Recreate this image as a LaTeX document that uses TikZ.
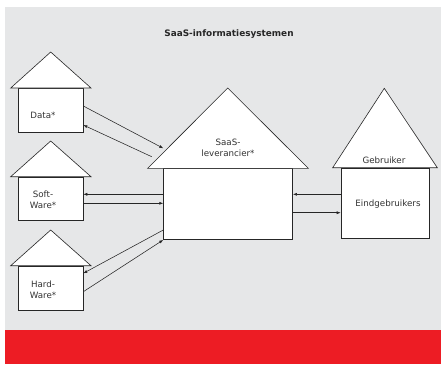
\documentclass[tikz,border=0pt]{standalone}
\usepackage{fontspec}
\setmainfont{DejaVu Sans}
\usetikzlibrary{arrows.meta}
\definecolor{bggray}{RGB}{230,231,232}
\definecolor{bandred}{RGB}{237,28,36}
\begin{document}
\begin{tikzpicture}[x=1pt,y=-1pt,
  body/.style={draw=black!85, fill=white, line width=0.6pt, inner sep=0pt, anchor=north west},
  roof/.style={draw=black!85, fill=white, line width=0.6pt, line join=miter},
  lbl/.style={font=\fontsize{8.7}{11}\selectfont, text=black!80, align=center, inner sep=0pt},
  conn/.style={draw=black!85, line width=0.55pt, -{Latex[length=4pt,width=3pt]}}]
\useasboundingbox (0,0) rectangle (441,364);
\fill[bggray] (5,7) rectangle (441,330);
\fill[bandred] (5,330) rectangle (441,364);
\node[font=\bfseries\fontsize{8.9}{11}\selectfont, text=black!85, inner sep=0pt] (title) at (229,34) {SaaS-informatiesystemen};
% Data house
\node[body, minimum width=64.4pt, minimum height=44pt] (datab) at (18.3,88) {};
\draw[roof] (10.7,88) -- (50.7,52) -- (91,88) -- cycle;
\node[lbl] (datal) at (43,115) {Data*};
% Software house
\node[body, minimum width=64.4pt, minimum height=43.3pt] (softb) at (18.3,176.7) {};
\draw[roof] (10.7,176.7) -- (50.7,141) -- (91,176.7) -- cycle;
\node[lbl] (softl) at (43,200) {Soft-\\Ware*};
% Hardware house
\node[body, minimum width=64.4pt, minimum height=44.3pt] (hardb) at (18.3,265.7) {};
\draw[roof] (10.7,265.7) -- (50.7,230) -- (91,265.7) -- cycle;
\node[lbl] (hardl) at (43,290) {Hard-\\Ware*};
% SaaS house
\node[body, minimum width=129pt, minimum height=71pt] (saasb) at (163.3,168.3) {};
\draw[roof] (147.7,168.3) -- (227.7,88) -- (308.3,168.3) -- cycle;
\node[lbl] (saasl) at (228,148) {SaaS-\\leverancier*};
% Gebruiker house
\node[body, minimum width=88.6pt, minimum height=70.6pt] (gebrb) at (340.7,167.7) {};
\draw[roof] (332.7,167.7) -- (384.3,88.3) -- (437.3,167.7) -- cycle;
\node[lbl] (gebrl) at (384,160) {Gebruiker};
\node[lbl] (eindl) at (388,204) {Eindgebruikers};
% connectors
\draw[conn] ([yshift=-18pt]datab.north east) -- ([yshift=20pt]saasb.north west);
\draw[conn] ([xshift=-11.6pt,yshift=11.6pt]saasb.north west) -- ([yshift=-37pt]datab.north east);
\draw[conn] ([yshift=-26pt]saasb.north west) -- ([yshift=-17.6pt]softb.north east);
\draw[conn] ([yshift=-26.6pt]softb.north east) -- ([yshift=-35pt]saasb.north west);
\draw[conn] ([yshift=-61.7pt]saasb.north west) -- ([yshift=-7.6pt]hardb.north east);
\draw[conn] ([yshift=-26pt]hardb.north east) -- (saasb.south west);
\draw[conn] ([yshift=-26.6pt]gebrb.north west) -- ([yshift=-26pt]saasb.north east);
\draw[conn] ([yshift=-44.4pt]saasb.north east) -- ([yshift=-45pt]gebrb.north west);
\end{tikzpicture}
\end{document}
